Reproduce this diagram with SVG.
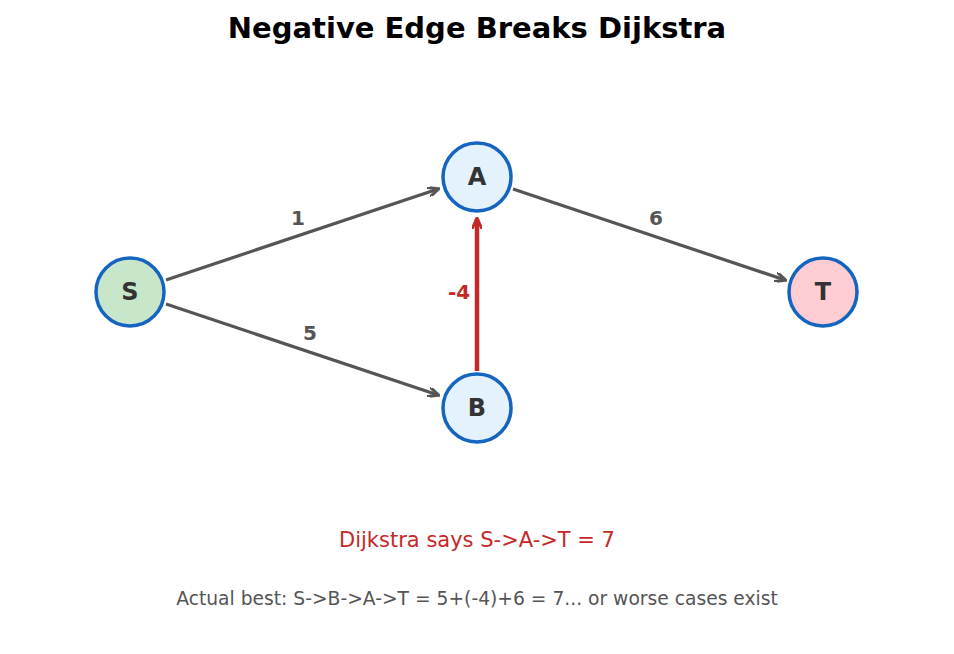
<svg xmlns="http://www.w3.org/2000/svg" width="954" height="654" viewBox="0 0 954 654">
<style>
.n{stroke:#1565c0;stroke-width:3.5}
.l{font-family:"DejaVu Sans",sans-serif;font-weight:bold;font-size:24px;fill:#333;text-anchor:middle}
.e{stroke:#555;stroke-width:3.2;fill:none}
.w{font-family:"DejaVu Sans",sans-serif;font-weight:bold;font-size:20px;fill:#555;text-anchor:middle}
</style>
<defs>
<marker id="m" markerWidth="12" markerHeight="10" refX="10" refY="5" orient="auto" markerUnits="userSpaceOnUse"><path d="M0,0 L11,5 L0,10" fill="none" stroke="#555" stroke-width="3"/></marker>
<marker id="r" markerWidth="12" markerHeight="10" refX="10" refY="5" orient="auto" markerUnits="userSpaceOnUse"><path d="M0,0 L11,5 L0,10" fill="none" stroke="#c62828" stroke-width="3"/></marker>
</defs>
<rect width="954" height="654" fill="#fff"/>
<text x="477" y="38" font-family="DejaVu Sans,sans-serif" font-weight="bold" font-size="29" text-anchor="middle">Negative Edge Breaks Dijkstra</text>
<g id="edges">
<line class="e" x1="166" y1="280" x2="438" y2="189" marker-end="url(#m)"/>
<line class="e" x1="166" y1="304" x2="438" y2="395" marker-end="url(#m)"/>
<line class="e" x1="513" y1="189" x2="785" y2="280" marker-end="url(#m)"/>
<line x1="477" y1="371" x2="477" y2="219" stroke="#c62828" stroke-width="4.5" marker-end="url(#r)"/>
<text class="w" x="298" y="225">1</text>
<text class="w" x="310" y="340">5</text>
<text class="w" x="656" y="225">6</text>
<text class="w" x="459" y="299" style="fill:#c62828">-4</text>
</g>
<g id="S"><circle class="n" cx="130" cy="292" r="34" fill="#c8e6c9"/><text class="l" x="130" y="300">S</text></g>
<g id="A"><circle class="n" cx="477" cy="177" r="34" fill="#e3f2fd"/><text class="l" x="477" y="185">A</text></g>
<g id="B"><circle class="n" cx="477" cy="408" r="34" fill="#e3f2fd"/><text class="l" x="477" y="416">B</text></g>
<g id="T"><circle class="n" cx="823" cy="292" r="34" fill="#ffcdd2"/><text class="l" x="823" y="300">T</text></g>
<text x="477" y="547" font-family="DejaVu Sans,sans-serif" font-size="21" fill="#c62828" text-anchor="middle">Dijkstra says S-&gt;A-&gt;T = 7</text>
<text x="477" y="605" font-family="DejaVu Sans,sans-serif" font-size="18.7" fill="#555" text-anchor="middle">Actual best: S-&gt;B-&gt;A-&gt;T = 5+(-4)+6 = 7... or worse cases exist</text>
</svg>
